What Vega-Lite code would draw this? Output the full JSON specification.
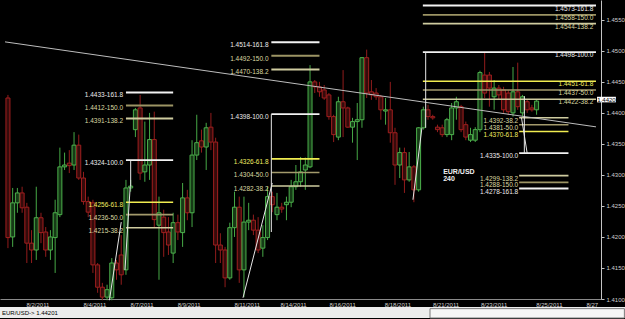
{
  "$schema": "https://vega.github.io/schema/vega-lite/v6.json",
  "background": "#000000",
  "padding": 0,
  "spacing": 0,
  "config": {"view": {"stroke": null}, "font": "Liberation Sans", "concat": {"spacing": 0},
    "axis": {"labelOverlap": false, "labelSeparation": 0, "grid": false, "title": null}},
  "datasets": {
    "candles": [
      {"i":0,"o":1.4424,"h":1.4429,"l":1.4182,"c":1.4199},
      {"i":1,"o":1.4200,"h":1.4279,"l":1.4184,"c":1.4255},
      {"i":2,"o":1.4255,"h":1.4279,"l":1.4239,"c":1.4271},
      {"i":3,"o":1.4271,"h":1.4281,"l":1.4239,"c":1.4247},
      {"i":4,"o":1.4248,"h":1.4255,"l":1.4158,"c":1.4190},
      {"i":5,"o":1.4190,"h":1.4211,"l":1.4158,"c":1.4179},
      {"i":6,"o":1.4179,"h":1.4281,"l":1.4163,"c":1.4231},
      {"i":7,"o":1.4231,"h":1.4239,"l":1.4190,"c":1.4207},
      {"i":8,"o":1.4208,"h":1.4216,"l":1.4168,"c":1.4179},
      {"i":9,"o":1.4179,"h":1.4211,"l":1.4163,"c":1.4200},
      {"i":10,"o":1.4199,"h":1.4260,"l":1.4142,"c":1.4239},
      {"i":11,"o":1.4236,"h":1.4344,"l":1.4232,"c":1.4313},
      {"i":12,"o":1.4313,"h":1.4336,"l":1.4308,"c":1.4316},
      {"i":13,"o":1.4319,"h":1.4340,"l":1.4303,"c":1.4315},
      {"i":14,"o":1.4316,"h":1.4369,"l":1.4308,"c":1.4348},
      {"i":15,"o":1.4348,"h":1.4365,"l":1.4292,"c":1.4295},
      {"i":16,"o":1.4295,"h":1.4305,"l":1.4252,"c":1.4257},
      {"i":17,"o":1.4257,"h":1.4265,"l":1.4232,"c":1.4240},
      {"i":18,"o":1.4255,"h":1.4260,"l":1.4142,"c":1.4155},
      {"i":19,"o":1.4155,"h":1.4158,"l":1.4110,"c":1.4119},
      {"i":20,"o":1.4119,"h":1.4126,"l":1.4098,"c":1.4103},
      {"i":21,"o":1.4103,"h":1.4123,"l":1.4098,"c":1.4115},
      {"i":22,"o":1.4102,"h":1.4166,"l":1.4098,"c":1.4158},
      {"i":23,"o":1.4158,"h":1.4163,"l":1.4131,"c":1.4147},
      {"i":24,"o":1.4171,"h":1.4203,"l":1.4123,"c":1.4139},
      {"i":25,"o":1.4147,"h":1.4292,"l":1.4139,"c":1.4279},
      {"i":26,"o":1.4279,"h":1.4292,"l":1.4273,"c":1.4282},
      {"i":27,"o":1.4373,"h":1.4408,"l":1.4361,"c":1.4405},
      {"i":28,"o":1.4408,"h":1.4429,"l":1.4292,"c":1.4303},
      {"i":29,"o":1.4305,"h":1.4386,"l":1.4289,"c":1.4316},
      {"i":30,"o":1.4316,"h":1.4400,"l":1.4292,"c":1.4357},
      {"i":31,"o":1.4357,"h":1.4402,"l":1.4216,"c":1.4228},
      {"i":32,"o":1.4219,"h":1.4265,"l":1.4131,"c":1.4239},
      {"i":33,"o":1.4232,"h":1.4244,"l":1.4168,"c":1.4207},
      {"i":34,"o":1.4208,"h":1.4232,"l":1.4171,"c":1.4187},
      {"i":35,"o":1.4174,"h":1.4239,"l":1.4158,"c":1.4223},
      {"i":36,"o":1.4223,"h":1.4236,"l":1.4195,"c":1.4208},
      {"i":37,"o":1.4207,"h":1.4287,"l":1.4184,"c":1.4263},
      {"i":38,"o":1.4263,"h":1.4276,"l":1.4227,"c":1.4239},
      {"i":39,"o":1.4239,"h":1.4356,"l":1.4216,"c":1.4332},
      {"i":40,"o":1.4332,"h":1.4397,"l":1.4324,"c":1.4352},
      {"i":41,"o":1.4355,"h":1.4373,"l":1.4336,"c":1.4345},
      {"i":42,"o":1.4345,"h":1.4384,"l":1.4308,"c":1.4376},
      {"i":43,"o":1.4377,"h":1.4400,"l":1.4340,"c":1.4353},
      {"i":44,"o":1.4353,"h":1.4360,"l":1.4158,"c":1.4187},
      {"i":45,"o":1.4187,"h":1.4206,"l":1.4158,"c":1.4179},
      {"i":46,"o":1.4179,"h":1.4184,"l":1.4119,"c":1.4134},
      {"i":47,"o":1.4134,"h":1.4223,"l":1.4131,"c":1.4215},
      {"i":48,"o":1.4215,"h":1.4273,"l":1.4200,"c":1.4248},
      {"i":49,"o":1.4248,"h":1.4265,"l":1.4126,"c":1.4147},
      {"i":50,"o":1.4147,"h":1.4265,"l":1.4103,"c":1.4224},
      {"i":51,"o":1.4224,"h":1.4255,"l":1.4211,"c":1.4227},
      {"i":52,"o":1.4227,"h":1.4236,"l":1.4203,"c":1.4211},
      {"i":53,"o":1.4211,"h":1.4232,"l":1.4174,"c":1.4179},
      {"i":54,"o":1.4182,"h":1.4219,"l":1.4168,"c":1.4199},
      {"i":55,"o":1.4199,"h":1.4281,"l":1.4195,"c":1.4265},
      {"i":56,"o":1.4265,"h":1.4273,"l":1.4240,"c":1.4252},
      {"i":57,"o":1.4236,"h":1.4271,"l":1.4227,"c":1.4248},
      {"i":58,"o":1.4248,"h":1.4255,"l":1.4239,"c":1.4245},
      {"i":59,"o":1.4252,"h":1.4265,"l":1.4227,"c":1.4256},
      {"i":60,"o":1.4256,"h":1.4292,"l":1.4248,"c":1.4281},
      {"i":61,"o":1.4281,"h":1.4316,"l":1.4276,"c":1.4289},
      {"i":62,"o":1.4289,"h":1.4329,"l":1.4281,"c":1.4305},
      {"i":63,"o":1.4308,"h":1.4328,"l":1.4276,"c":1.4316},
      {"i":64,"o":1.4313,"h":1.4477,"l":1.4311,"c":1.4450},
      {"i":65,"o":1.4450,"h":1.4453,"l":1.4432,"c":1.4442},
      {"i":66,"o":1.4442,"h":1.4450,"l":1.4426,"c":1.4434},
      {"i":67,"o":1.4437,"h":1.4445,"l":1.4421,"c":1.4424},
      {"i":68,"o":1.4429,"h":1.4432,"l":1.4389,"c":1.4394},
      {"i":69,"o":1.4394,"h":1.4397,"l":1.4353,"c":1.4365},
      {"i":70,"o":1.4361,"h":1.4426,"l":1.4356,"c":1.4418},
      {"i":71,"o":1.4418,"h":1.4469,"l":1.4361,"c":1.4408},
      {"i":72,"o":1.4408,"h":1.4410,"l":1.4376,"c":1.4377},
      {"i":73,"o":1.4377,"h":1.4392,"l":1.4352,"c":1.4386},
      {"i":74,"o":1.4386,"h":1.4416,"l":1.4324,"c":1.4389},
      {"i":75,"o":1.4389,"h":1.4490,"l":1.4376,"c":1.4489},
      {"i":76,"o":1.4489,"h":1.4502,"l":1.4424,"c":1.4432},
      {"i":77,"o":1.4434,"h":1.4453,"l":1.4421,"c":1.4429},
      {"i":78,"o":1.4432,"h":1.4440,"l":1.4421,"c":1.4426},
      {"i":79,"o":1.4426,"h":1.4429,"l":1.4389,"c":1.4405},
      {"i":80,"o":1.4403,"h":1.4424,"l":1.4381,"c":1.4405},
      {"i":81,"o":1.4405,"h":1.4450,"l":1.4352,"c":1.4368},
      {"i":82,"o":1.4368,"h":1.4376,"l":1.4284,"c":1.4316},
      {"i":83,"o":1.4316,"h":1.4344,"l":1.4295,"c":1.4336},
      {"i":84,"o":1.4336,"h":1.4344,"l":1.4271,"c":1.4292},
      {"i":85,"o":1.4292,"h":1.4337,"l":1.4289,"c":1.4313},
      {"i":86,"o":1.4313,"h":1.4316,"l":1.4256,"c":1.4276},
      {"i":87,"o":1.4276,"h":1.4377,"l":1.4273,"c":1.4376},
      {"i":88,"o":1.4376,"h":1.4410,"l":1.4373,"c":1.4405},
      {"i":89,"o":1.4405,"h":1.4413,"l":1.4389,"c":1.4394},
      {"i":90,"o":1.4394,"h":1.4397,"l":1.4389,"c":1.4392},
      {"i":91,"o":1.4377,"h":1.4381,"l":1.4369,"c":1.4373},
      {"i":92,"o":1.4376,"h":1.4381,"l":1.4361,"c":1.4365},
      {"i":93,"o":1.4365,"h":1.4392,"l":1.4361,"c":1.4389},
      {"i":94,"o":1.4365,"h":1.4416,"l":1.4356,"c":1.4408},
      {"i":95,"o":1.4408,"h":1.4426,"l":1.4389,"c":1.4418},
      {"i":96,"o":1.4410,"h":1.4413,"l":1.4369,"c":1.4373},
      {"i":97,"o":1.4381,"h":1.4386,"l":1.4356,"c":1.4361},
      {"i":98,"o":1.4356,"h":1.4376,"l":1.4353,"c":1.4365},
      {"i":99,"o":1.4356,"h":1.4377,"l":1.4353,"c":1.4373},
      {"i":100,"o":1.4373,"h":1.4468,"l":1.4369,"c":1.4465},
      {"i":101,"o":1.4461,"h":1.4497,"l":1.4424,"c":1.4432},
      {"i":102,"o":1.4461,"h":1.4466,"l":1.4410,"c":1.4440},
      {"i":103,"o":1.4426,"h":1.4453,"l":1.4405,"c":1.4440},
      {"i":104,"o":1.4440,"h":1.4445,"l":1.4421,"c":1.4429},
      {"i":105,"o":1.4437,"h":1.4442,"l":1.4400,"c":1.4405},
      {"i":106,"o":1.4432,"h":1.4437,"l":1.4397,"c":1.4402},
      {"i":107,"o":1.4400,"h":1.4474,"l":1.4394,"c":1.4434},
      {"i":108,"o":1.4434,"h":1.4481,"l":1.4405,"c":1.4410},
      {"i":109,"o":1.4400,"h":1.4429,"l":1.4394,"c":1.4426},
      {"i":110,"o":1.4418,"h":1.4421,"l":1.4400,"c":1.4405},
      {"i":111,"o":1.4408,"h":1.4413,"l":1.4402,"c":1.4405},
      {"i":112,"o":1.4405,"h":1.4421,"l":1.4397,"c":1.4419}
    ],
    "levels": [
      {"lvl":"161.8","p":1.4433,"a":25.0,"b":35.0,"la":24.4,"t":"1.4433-161.8"},
      {"lvl":"150.0","p":1.4412,"a":25.0,"b":35.0,"la":24.4,"t":"1.4412-150.0"},
      {"lvl":"138.2","p":1.4391,"a":25.0,"b":35.0,"la":24.4,"t":"1.4391-138.2"},
      {"lvl":"100.0","p":1.4324,"a":25.0,"b":35.0,"la":24.4,"t":"1.4324-100.0"},
      {"lvl":"61.8","p":1.4256,"a":25.0,"b":35.0,"la":24.4,"t":"1.4256-61.8"},
      {"lvl":"50.0","p":1.4236,"a":25.0,"b":35.0,"la":24.4,"t":"1.4236-50.0"},
      {"lvl":"38.2","p":1.4215,"a":25.0,"b":35.0,"la":24.4,"t":"1.4215-38.2"},
      {"lvl":"161.8","p":1.4514,"a":55.8,"b":66.0,"la":55.2,"t":"1.4514-161.8"},
      {"lvl":"150.0","p":1.4492,"a":55.8,"b":66.0,"la":55.2,"t":"1.4492-150.0"},
      {"lvl":"138.2","p":1.4470,"a":55.8,"b":66.0,"la":55.2,"t":"1.4470-138.2"},
      {"lvl":"100.0","p":1.4398,"a":55.8,"b":66.0,"la":55.2,"t":"1.4398-100.0"},
      {"lvl":"61.8","p":1.4326,"a":55.8,"b":66.0,"la":55.2,"t":"1.4326-61.8"},
      {"lvl":"50.0","p":1.4304,"a":55.8,"b":66.0,"la":55.2,"t":"1.4304-50.0"},
      {"lvl":"38.2","p":1.4282,"a":55.8,"b":66.0,"la":55.2,"t":"1.4282-38.2"},
      {"lvl":"161.8","p":1.4573,"a":87.9,"b":124.58,"la":124.0,"t":"1.4573-161.8"},
      {"lvl":"150.0","p":1.4558,"a":87.9,"b":124.58,"la":124.0,"t":"1.4558-150.0"},
      {"lvl":"138.2","p":1.4544,"a":87.9,"b":124.58,"la":124.0,"t":"1.4544-138.2"},
      {"lvl":"100.0","p":1.4498,"a":87.9,"b":124.58,"la":124.0,"t":"1.4498-100.0"},
      {"lvl":"61.8","p":1.4451,"a":87.9,"b":124.58,"la":124.0,"t":"1.4451-61.8"},
      {"lvl":"50.0","p":1.4437,"a":87.9,"b":124.58,"la":124.0,"t":"1.4437-50.0"},
      {"lvl":"38.2","p":1.4422,"a":87.9,"b":124.58,"la":124.0,"t":"1.4422-38.2"},
      {"lvl":"38.2","p":1.4392,"a":108.3,"b":118.75,"la":108.1,"t":"1.4392-38.2"},
      {"lvl":"50.0","p":1.4381,"a":108.3,"b":118.75,"la":108.1,"t":"1.4381-50.0"},
      {"lvl":"61.8","p":1.4370,"a":108.3,"b":118.75,"la":108.1,"t":"1.4370-61.8"},
      {"lvl":"100.0","p":1.4335,"a":108.3,"b":118.75,"la":108.1,"t":"1.4335-100.0"},
      {"lvl":"138.2","p":1.4299,"a":108.3,"b":118.75,"la":108.1,"t":"1.4299-138.2"},
      {"lvl":"150.0","p":1.4288,"a":108.3,"b":118.75,"la":108.1,"t":"1.4288-150.0"},
      {"lvl":"161.8","p":1.4278,"a":108.3,"b":118.75,"la":108.1,"t":"1.4278-161.8"}
    ],
    "segs": [
      {"k":"trend","i1":-0.625,"p1":1.45145,"i2":124.58,"p2":1.43775},
      {"k":"fib","i1":21.5,"p1":1.4098,"i2":24.0,"p2":1.4224},
      {"k":"fib","i1":24.8,"p1":1.4147,"i2":25.9,"p2":1.4281},
      {"k":"fib","i1":26.0,"p1":1.4324,"i2":26.0,"p2":1.4281},
      {"k":"fib","i1":49.8,"p1":1.4102,"i2":56.0,"p2":1.4287},
      {"k":"fib","i1":55.8,"p1":1.4398,"i2":55.8,"p2":1.4208},
      {"k":"fib","i1":85.8,"p1":1.4260,"i2":87.7,"p2":1.4376},
      {"k":"fib","i1":88.5,"p1":1.4498,"i2":88.5,"p2":1.4376},
      {"k":"fib","i1":108.8,"p1":1.4392,"i2":110.0,"p2":1.4335},
      {"k":"fib","i1":109.4,"p1":1.4427,"i2":109.4,"p2":1.4335}
    ],
    "notes": [
      {"i":92.2,"p":1.4305,"t":"EUR/USD"},
      {"i":92.2,"p":1.4293,"t":"240"}
    ],
    "last": [
      {"i1":124.8,"i2":128.8,"p1":1.4417,"p2":1.4426,"im":126.8,"pm":1.44215,"t":"1.4420"}
    ]
  },
  "vconcat": [
    {
      "width": 601,
      "height": 299,
      "view": {"fill": "#000000", "stroke": null},
      "layer": [
        {
          "data": {"name": "candles"},
          "mark": {"type": "rule", "strokeWidth": 1},
          "encoding": {
            "x": {"field": "i", "type": "quantitative", "scale": {"domain": [-0.625, 124.583], "nice": false, "zero": false},
              "axis": {"title": null, "orient": "bottom", "grid": false, "ticks": false, "domainColor": "#8a8a8a", "domainWidth": 1,
                "labelColor": "#cfcfcf", "labelFontSize": 6, "labelPadding": 2, "labelOverlap": false, "labelFlush": false, "labelBound": false,
                "values": [6.25, 18.3, 28.3, 38.3, 50.6, 60.4, 70.8, 82.5, 92.7, 102.9, 114.6, 123.7],
                "labelExpr": "['8/2/2011','8/4/2011','8/7/2011','8/9/2011','8/11/2011','8/14/2011','8/16/2011','8/18/2011','8/21/2011','8/23/2011','8/25/2011','8/27'][indexof([6.25, 18.3, 28.3, 38.3, 50.6, 60.4, 70.8, 82.5, 92.7, 102.9, 114.6, 123.7], datum.value)]"}},
            "y": {"field": "l", "type": "quantitative", "scale": {"domain": [1.41, 1.4582], "nice": false, "zero": false},
              "axis": {"title": null, "orient": "right", "grid": false, "values": [1.41, 1.415, 1.42, 1.425, 1.43, 1.435, 1.44, 1.445, 1.45, 1.455],
                "labelExpr": "format(datum.value, '.4f')", "domainColor": "#c4c4c4", "tickColor": "#c4c4c4", "tickSize": 3, "labelColor": "#cfcfcf", "labelFontSize": 6, "labelPadding": 2, "labelOverlap": false, "labelFlush": false, "labelBound": false}},
            "y2": {"field": "h"},
            "color": {"condition": {"test": "datum.c >= datum.o", "value": "#46a846"}, "value": "#921c1c"}
          }
        },
        {
          "data": {"name": "candles"},
          "mark": {"type": "bar", "size": 4, "strokeWidth": 1},
          "encoding": {
            "x": {"field": "i", "type": "quantitative", "scale": {"domain": [-0.625, 124.583], "nice": false, "zero": false},
              "axis": {"title": null, "orient": "bottom", "grid": false, "ticks": false, "domainColor": "#8a8a8a", "domainWidth": 1,
                "labelColor": "#cfcfcf", "labelFontSize": 6, "labelPadding": 2, "labelOverlap": false, "labelFlush": false, "labelBound": false,
                "values": [6.25, 18.3, 28.3, 38.3, 50.6, 60.4, 70.8, 82.5, 92.7, 102.9, 114.6, 123.7],
                "labelExpr": "['8/2/2011','8/4/2011','8/7/2011','8/9/2011','8/11/2011','8/14/2011','8/16/2011','8/18/2011','8/21/2011','8/23/2011','8/25/2011','8/27'][indexof([6.25, 18.3, 28.3, 38.3, 50.6, 60.4, 70.8, 82.5, 92.7, 102.9, 114.6, 123.7], datum.value)]"}},
            "y": {"field": "o", "type": "quantitative", "scale": {"domain": [1.41, 1.4582], "nice": false, "zero": false},
              "axis": {"title": null, "orient": "right", "grid": false, "values": [1.41, 1.415, 1.42, 1.425, 1.43, 1.435, 1.44, 1.445, 1.45, 1.455],
                "labelExpr": "format(datum.value, '.4f')", "domainColor": "#c4c4c4", "tickColor": "#c4c4c4", "tickSize": 3, "labelColor": "#cfcfcf", "labelFontSize": 6, "labelPadding": 2, "labelOverlap": false, "labelFlush": false, "labelBound": false}},
            "y2": {"field": "c"},
            "fill": {"condition": {"test": "datum.c >= datum.o", "value": "#163a16"}, "value": "#360b0b"},
            "stroke": {"condition": {"test": "datum.c >= datum.o", "value": "#4cb04c"}, "value": "#a01f1f"}
          }
        },
        {
          "data": {"name": "levels"},
          "mark": {"type": "rule"},
          "encoding": {
            "x": {"field": "a", "type": "quantitative", "scale": {"domain": [-0.625, 124.583], "nice": false, "zero": false},
              "axis": {"title": null, "orient": "bottom", "grid": false, "ticks": false, "domainColor": "#8a8a8a", "domainWidth": 1,
                "labelColor": "#cfcfcf", "labelFontSize": 6, "labelPadding": 2, "labelOverlap": false, "labelFlush": false, "labelBound": false,
                "values": [6.25, 18.3, 28.3, 38.3, 50.6, 60.4, 70.8, 82.5, 92.7, 102.9, 114.6, 123.7],
                "labelExpr": "['8/2/2011','8/4/2011','8/7/2011','8/9/2011','8/11/2011','8/14/2011','8/16/2011','8/18/2011','8/21/2011','8/23/2011','8/25/2011','8/27'][indexof([6.25, 18.3, 28.3, 38.3, 50.6, 60.4, 70.8, 82.5, 92.7, 102.9, 114.6, 123.7], datum.value)]"}},
            "x2": {"field": "b"},
            "y": {"field": "p", "type": "quantitative", "scale": {"domain": [1.41, 1.4582], "nice": false, "zero": false},
              "axis": {"title": null, "orient": "right", "grid": false, "values": [1.41, 1.415, 1.42, 1.425, 1.43, 1.435, 1.44, 1.445, 1.45, 1.455],
                "labelExpr": "format(datum.value, '.4f')", "domainColor": "#c4c4c4", "tickColor": "#c4c4c4", "tickSize": 3, "labelColor": "#cfcfcf", "labelFontSize": 6, "labelPadding": 2, "labelOverlap": false, "labelFlush": false, "labelBound": false}},
            "color": {"field": "lvl", "type": "nominal", "legend": null,
              "scale": {"domain": ["161.8","150.0","138.2","100.0","61.8","50.0","38.2"], "range": ["#f2f2f2","#9c9464","#cfcca0","#f2f2f2","#f0ec50","#a39a6c","#cfcca0"]}},
            "strokeWidth": {"field": "lvl", "type": "ordinal", "legend": null,
              "scale": {"domain": ["161.8","150.0","138.2","100.0","61.8","50.0","38.2"], "range": [2, 1.5, 1, 2, 2, 1.5, 1]}}
          }
        },
        {
          "data": {"name": "levels"},
          "mark": {"type": "text", "align": "right", "baseline": "middle", "dy": 3, "fontSize": 6.5},
          "encoding": {
            "x": {"field": "la", "type": "quantitative", "scale": {"domain": [-0.625, 124.583], "nice": false, "zero": false},
              "axis": {"title": null, "orient": "bottom", "grid": false, "ticks": false, "domainColor": "#8a8a8a", "domainWidth": 1,
                "labelColor": "#cfcfcf", "labelFontSize": 6, "labelPadding": 2, "labelOverlap": false, "labelFlush": false, "labelBound": false,
                "values": [6.25, 18.3, 28.3, 38.3, 50.6, 60.4, 70.8, 82.5, 92.7, 102.9, 114.6, 123.7],
                "labelExpr": "['8/2/2011','8/4/2011','8/7/2011','8/9/2011','8/11/2011','8/14/2011','8/16/2011','8/18/2011','8/21/2011','8/23/2011','8/25/2011','8/27'][indexof([6.25, 18.3, 28.3, 38.3, 50.6, 60.4, 70.8, 82.5, 92.7, 102.9, 114.6, 123.7], datum.value)]"}},
            "y": {"field": "p", "type": "quantitative", "scale": {"domain": [1.41, 1.4582], "nice": false, "zero": false},
              "axis": {"title": null, "orient": "right", "grid": false, "values": [1.41, 1.415, 1.42, 1.425, 1.43, 1.435, 1.44, 1.445, 1.45, 1.455],
                "labelExpr": "format(datum.value, '.4f')", "domainColor": "#c4c4c4", "tickColor": "#c4c4c4", "tickSize": 3, "labelColor": "#cfcfcf", "labelFontSize": 6, "labelPadding": 2, "labelOverlap": false, "labelFlush": false, "labelBound": false}},
            "text": {"field": "t"},
            "color": {"condition": [{"test": "datum.lvl == '161.8' || datum.lvl == '100.0'", "value": "#ececec"}, {"test": "datum.lvl == '61.8'", "value": "#f0ec60"}], "value": "#dcd8a0"}
          }
        },
        {
          "data": {"name": "segs"},
          "mark": {"type": "rule", "strokeWidth": 1},
          "encoding": {
            "x": {"field": "i1", "type": "quantitative", "scale": {"domain": [-0.625, 124.583], "nice": false, "zero": false},
              "axis": {"title": null, "orient": "bottom", "grid": false, "ticks": false, "domainColor": "#8a8a8a", "domainWidth": 1,
                "labelColor": "#cfcfcf", "labelFontSize": 6, "labelPadding": 2, "labelOverlap": false, "labelFlush": false, "labelBound": false,
                "values": [6.25, 18.3, 28.3, 38.3, 50.6, 60.4, 70.8, 82.5, 92.7, 102.9, 114.6, 123.7],
                "labelExpr": "['8/2/2011','8/4/2011','8/7/2011','8/9/2011','8/11/2011','8/14/2011','8/16/2011','8/18/2011','8/21/2011','8/23/2011','8/25/2011','8/27'][indexof([6.25, 18.3, 28.3, 38.3, 50.6, 60.4, 70.8, 82.5, 92.7, 102.9, 114.6, 123.7], datum.value)]"}},
            "x2": {"field": "i2"},
            "y": {"field": "p1", "type": "quantitative", "scale": {"domain": [1.41, 1.4582], "nice": false, "zero": false},
              "axis": {"title": null, "orient": "right", "grid": false, "values": [1.41, 1.415, 1.42, 1.425, 1.43, 1.435, 1.44, 1.445, 1.45, 1.455],
                "labelExpr": "format(datum.value, '.4f')", "domainColor": "#c4c4c4", "tickColor": "#c4c4c4", "tickSize": 3, "labelColor": "#cfcfcf", "labelFontSize": 6, "labelPadding": 2, "labelOverlap": false, "labelFlush": false, "labelBound": false}},
            "y2": {"field": "p2"},
            "color": {"condition": {"test": "datum.k == 'trend'", "value": "#bdbdbd"}, "value": "#e6e6e6"}
          }
        },
        {
          "data": {"name": "notes"},
          "mark": {"type": "text", "align": "left", "baseline": "middle", "fontSize": 7, "fontWeight": "bold", "color": "#f0f0f0"},
          "encoding": {
            "x": {"field": "i", "type": "quantitative", "scale": {"domain": [-0.625, 124.583], "nice": false, "zero": false},
              "axis": {"title": null, "orient": "bottom", "grid": false, "ticks": false, "domainColor": "#8a8a8a", "domainWidth": 1,
                "labelColor": "#cfcfcf", "labelFontSize": 6, "labelPadding": 2, "labelOverlap": false, "labelFlush": false, "labelBound": false,
                "values": [6.25, 18.3, 28.3, 38.3, 50.6, 60.4, 70.8, 82.5, 92.7, 102.9, 114.6, 123.7],
                "labelExpr": "['8/2/2011','8/4/2011','8/7/2011','8/9/2011','8/11/2011','8/14/2011','8/16/2011','8/18/2011','8/21/2011','8/23/2011','8/25/2011','8/27'][indexof([6.25, 18.3, 28.3, 38.3, 50.6, 60.4, 70.8, 82.5, 92.7, 102.9, 114.6, 123.7], datum.value)]"}},
            "y": {"field": "p", "type": "quantitative", "scale": {"domain": [1.41, 1.4582], "nice": false, "zero": false},
              "axis": {"title": null, "orient": "right", "grid": false, "values": [1.41, 1.415, 1.42, 1.425, 1.43, 1.435, 1.44, 1.445, 1.45, 1.455],
                "labelExpr": "format(datum.value, '.4f')", "domainColor": "#c4c4c4", "tickColor": "#c4c4c4", "tickSize": 3, "labelColor": "#cfcfcf", "labelFontSize": 6, "labelPadding": 2, "labelOverlap": false, "labelFlush": false, "labelBound": false}},
            "text": {"field": "t"}
          }
        },
        {
          "data": {"name": "last"},
          "mark": {"type": "rect", "color": "#ffffff"},
          "encoding": {
            "x": {"field": "i1", "type": "quantitative", "scale": {"domain": [-0.625, 124.583], "nice": false, "zero": false},
              "axis": {"title": null, "orient": "bottom", "grid": false, "ticks": false, "domainColor": "#8a8a8a", "domainWidth": 1,
                "labelColor": "#cfcfcf", "labelFontSize": 6, "labelPadding": 2, "labelOverlap": false, "labelFlush": false, "labelBound": false,
                "values": [6.25, 18.3, 28.3, 38.3, 50.6, 60.4, 70.8, 82.5, 92.7, 102.9, 114.6, 123.7],
                "labelExpr": "['8/2/2011','8/4/2011','8/7/2011','8/9/2011','8/11/2011','8/14/2011','8/16/2011','8/18/2011','8/21/2011','8/23/2011','8/25/2011','8/27'][indexof([6.25, 18.3, 28.3, 38.3, 50.6, 60.4, 70.8, 82.5, 92.7, 102.9, 114.6, 123.7], datum.value)]"}},
            "x2": {"field": "i2"},
            "y": {"field": "p1", "type": "quantitative", "scale": {"domain": [1.41, 1.4582], "nice": false, "zero": false},
              "axis": {"title": null, "orient": "right", "grid": false, "values": [1.41, 1.415, 1.42, 1.425, 1.43, 1.435, 1.44, 1.445, 1.45, 1.455],
                "labelExpr": "format(datum.value, '.4f')", "domainColor": "#c4c4c4", "tickColor": "#c4c4c4", "tickSize": 3, "labelColor": "#cfcfcf", "labelFontSize": 6, "labelPadding": 2, "labelOverlap": false, "labelFlush": false, "labelBound": false}},
            "y2": {"field": "p2"}
          }
        },
        {
          "data": {"name": "last"},
          "mark": {"type": "text", "align": "center", "baseline": "middle", "fontSize": 6, "color": "#000000"},
          "encoding": {
            "x": {"field": "im", "type": "quantitative", "scale": {"domain": [-0.625, 124.583], "nice": false, "zero": false},
              "axis": {"title": null, "orient": "bottom", "grid": false, "ticks": false, "domainColor": "#8a8a8a", "domainWidth": 1,
                "labelColor": "#cfcfcf", "labelFontSize": 6, "labelPadding": 2, "labelOverlap": false, "labelFlush": false, "labelBound": false,
                "values": [6.25, 18.3, 28.3, 38.3, 50.6, 60.4, 70.8, 82.5, 92.7, 102.9, 114.6, 123.7],
                "labelExpr": "['8/2/2011','8/4/2011','8/7/2011','8/9/2011','8/11/2011','8/14/2011','8/16/2011','8/18/2011','8/21/2011','8/23/2011','8/25/2011','8/27'][indexof([6.25, 18.3, 28.3, 38.3, 50.6, 60.4, 70.8, 82.5, 92.7, 102.9, 114.6, 123.7], datum.value)]"}},
            "y": {"field": "pm", "type": "quantitative", "scale": {"domain": [1.41, 1.4582], "nice": false, "zero": false},
              "axis": {"title": null, "orient": "right", "grid": false, "values": [1.41, 1.415, 1.42, 1.425, 1.43, 1.435, 1.44, 1.445, 1.45, 1.455],
                "labelExpr": "format(datum.value, '.4f')", "domainColor": "#c4c4c4", "tickColor": "#c4c4c4", "tickSize": 3, "labelColor": "#cfcfcf", "labelFontSize": 6, "labelPadding": 2, "labelOverlap": false, "labelFlush": false, "labelBound": false}},
            "text": {"field": "t"}
          }
        }
      ]
    },
    {
      "width": 625,
      "height": 11,
      "view": {"fill": "#ececec", "stroke": null},
      "layer": [
        {
          "data": {"values": [{"x1": 0.688, "x2": 0.999, "y1": 0.0, "y2": 0.85}]},
          "mark": {"type": "rect", "fill": "#f6f6f6", "stroke": "#7a7a7a", "strokeWidth": 1},
          "encoding": {
            "x": {"field": "x1", "type": "quantitative", "scale": {"domain": [0, 1]}, "axis": null},
            "x2": {"field": "x2"},
            "y": {"field": "y1", "type": "quantitative", "scale": {"domain": [0, 1]}, "axis": null},
            "y2": {"field": "y2"}
          }
        },
        {
          "data": {"values": [{"pos": 0, "row": 0.5, "t": "EUR/USD-> 1.44201"}]},
          "mark": {"type": "text", "align": "left", "baseline": "middle", "fontSize": 6, "color": "#000000", "dx": 2},
          "encoding": {
            "x": {"field": "pos", "type": "quantitative", "scale": {"domain": [0, 1]}, "axis": null},
            "y": {"field": "row", "type": "quantitative", "scale": {"domain": [0, 1]}, "axis": null},
            "text": {"field": "t"}
          }
        }
      ]
    }
  ]
}
